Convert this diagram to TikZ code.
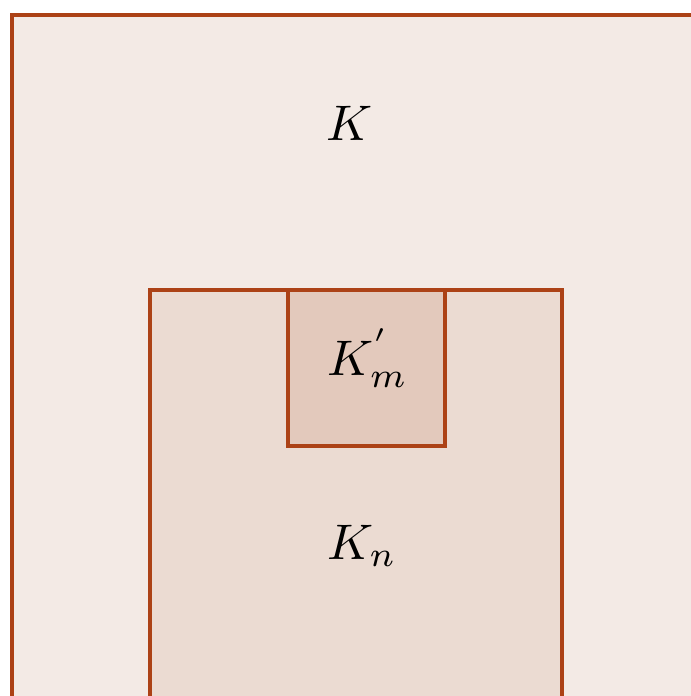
\documentclass[tikz,border=0pt]{standalone}
\definecolor{edge}{RGB}{172,66,22}
\definecolor{fillA}{RGB}{243,234,229}
\definecolor{fillB}{RGB}{235,219,210}
\definecolor{fillC}{RGB}{227,201,188}
\tikzset{region/.style={draw=edge,line width=0.7pt}}
\begin{document}
\begin{tikzpicture}[x=0.2pt,y=-0.2pt]
\useasboundingbox (0,0) rectangle (691,696);
\clip (0,0) rectangle (691,696);
\fill[white] (0,0) rectangle (691,696);
\path[region,fill=fillA] (12,15) rectangle (730,730);
\path[region,fill=fillB] (150,290) rectangle (562,730);
\path[region,fill=fillC] (288,290) rectangle (445,446);
\node (k) at (350,123) {$K$};
\node (km) at (368,358) {$K_m^{'}$};
\node (kn) at (362,546) {$K_n$};
\end{tikzpicture}
\end{document}
